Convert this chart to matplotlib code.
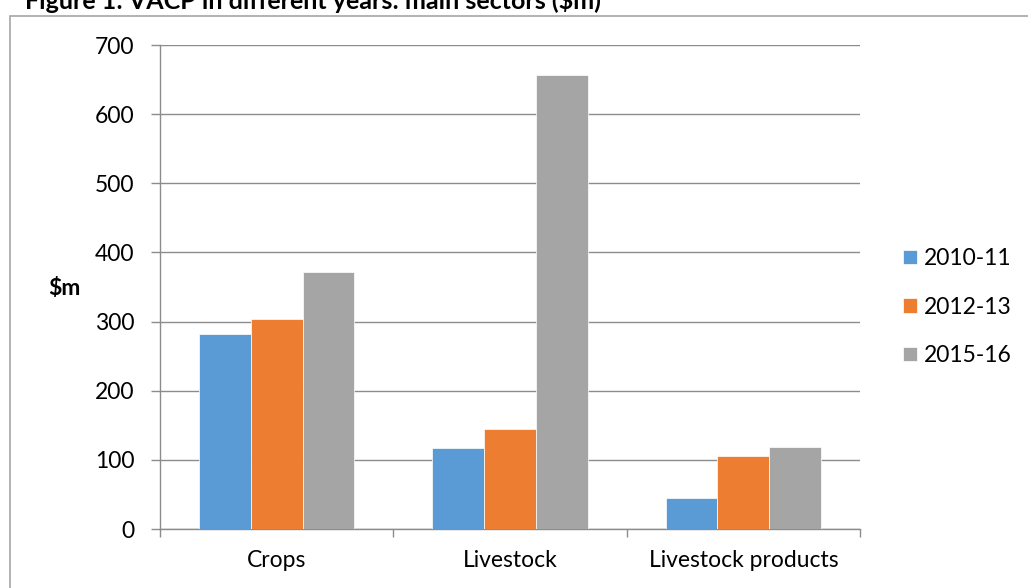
import matplotlib.pyplot as plt
import numpy as np
from matplotlib.patches import Rectangle

plt.rcParams['font.family'] = ['Lato', 'DejaVu Sans']

categories = ['Crops', 'Livestock', 'Livestock products']
years = ['2010-11', '2012-13', '2015-16']
values_2010 = [282, 117, 45]
values_2012 = [303, 145, 106]
values_2015 = [371, 657, 119]
colors = ['#5b9bd5', '#ed7d31', '#a5a5a5']

W, H = 1028, 588
fs = 16.5
fig = plt.figure(figsize=(W / 100, H / 100), dpi=100)
ax = fig.add_axes([160 / W, 59 / H, 700 / W, 484 / H])

x = np.arange(len(categories))
w = 1 / 4.5
for i, (vals, lab) in enumerate(zip([values_2010, values_2012, values_2015], years)):
    ax.bar(x + (i - 1) * w, vals, width=w, color=colors[i], label=lab,
           edgecolor='white', linewidth=0.5, zorder=3)

grid_c = '#8c8c8c'
ax.set_xlim(-0.5, 2.5)
ax.set_ylim(0, 700)
ax.set_yticks(range(0, 701, 100))
ax.yaxis.grid(True, color=grid_c, linewidth=1.0, zorder=0)
ax.set_xticks(x)
ax.set_xticklabels(categories)
ax.set_xticks([-0.5, 0.5, 1.5, 2.5], minor=True)
ax.tick_params(axis='x', which='major', length=0, pad=15, labelsize=fs)
ax.tick_params(axis='x', which='minor', length=5.8, color=grid_c, width=1)
ax.tick_params(axis='y', length=6.5, color=grid_c, width=1, pad=12, labelsize=fs)
for s in ['top', 'right']:
    ax.spines[s].set_visible(False)
for s in ['left', 'bottom']:
    ax.spines[s].set_color(grid_c)
    ax.spines[s].set_linewidth(1.0)

# axis title sits to the left, horizontal
fig.text(64.5 / W, 1 - 289 / H, '$m', fontsize=fs, fontweight='bold',
         ha='center', va='center')

ax.legend(loc='center left', bbox_to_anchor=(903 / W, 1 - 307 / H),
          bbox_transform=fig.transFigure, frameon=False, borderpad=0,
          borderaxespad=0, fontsize=fs, handlelength=0.6, handleheight=0.6,
          labelspacing=1.2, handletextpad=0.3)

# outer frame around the chart
fig.patches.append(Rectangle((10 / W, -0.05), 1.1, (H - 16) / H + 0.05,
                             transform=fig.transFigure, fill=False,
                             edgecolor='#a6a6a6', linewidth=1.2))
fig.text(25 / W, 1 - 9 / H, 'Figure 1: VACP in different years: main sectors ($m)',
         fontsize=18, fontweight='bold', ha='left', va='baseline')

fig.savefig('out.png', dpi=100)
